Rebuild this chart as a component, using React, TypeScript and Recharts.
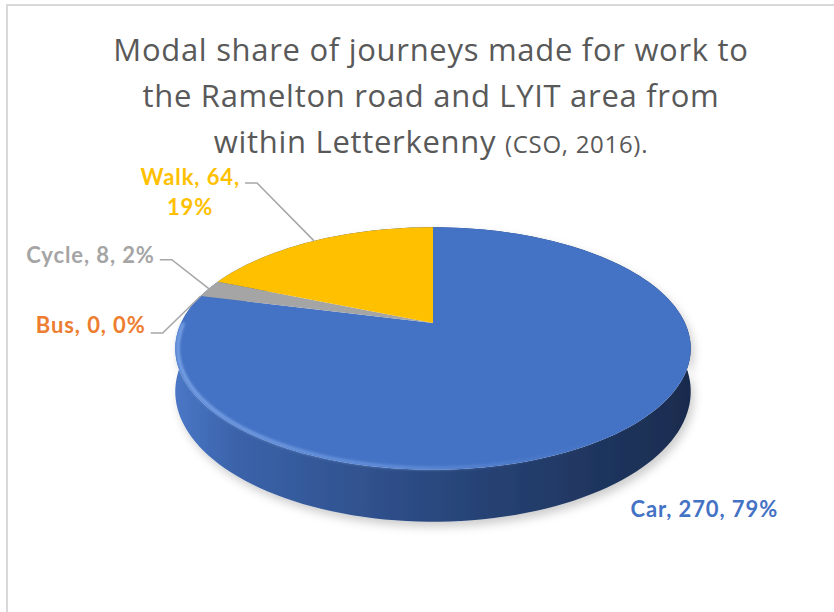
import React from 'react';
import { PieChart, Pie } from 'recharts';

const CATEGORIES = ['Car', 'Bus', 'Cycle', 'Walk'];
const JOURNEYS = [270, 0, 8, 64];
const COLORS = ['#4472C4', '#ED7D31', '#A5A5A5', '#FFC000'];

const chartData = CATEGORIES.map((name, i) => ({ name, value: JOURNEYS[i], color: COLORS[i] }));

// perspective of the tilted disc
const PERSP = 0.21;
const TILT = 0.46;
const DEPTH = 0.163;

// where the data labels sit, relative to the slice rim point
const LABEL_LAYOUT: Record<string, any> = {
    Car: { dx: 12, dy: 76 },
    Bus: { ex: -38, ey: 37, tx: -5, ty: -8 },
    Cycle: { ex: -37, ey: -29, tx: -5, ty: -5 },
    Walk: { ex: -57, ey: -58, tx: -55, ty: -6, wrap: true },
};

const project = (cx: number, cy: number, r: number, deg: number, f = 1, drop = 0) => {
    const t = (deg * Math.PI) / 180;
    const X = f * Math.cos(t);
    const Z = -f * Math.sin(t);
    const d = 1 - PERSP * Z;
    return [cx + (r * X) / d, cy + (r * (TILT * Z + drop)) / d];
};

const arcPoints = (cx: number, cy: number, r: number, a0: number, a1: number, drop = 0) => {
    const n = Math.max(2, Math.ceil(Math.abs(a1 - a0) / 2));
    const pts: number[][] = [];
    for (let i = 0; i <= n; i++) {
        pts.push(project(cx, cy, r, a0 + ((a1 - a0) * i) / n, 1, drop));
    }
    return pts;
};

const toPath = (pts: number[][]) => pts.map((p, i) => `${i ? 'L' : 'M'}${p[0].toFixed(2)},${p[1].toFixed(2)}`).join(' ');

const WallShape = (props: any) => {
    const { cx, cy, outerRadius, startAngle, endAngle } = props;
    const name = props.name ?? props.payload?.name;
    if (startAngle === endAngle) return null;
    const top = arcPoints(cx, cy, outerRadius, startAngle, endAngle);
    const bottom = arcPoints(cx, cy, outerRadius, startAngle, endAngle, DEPTH).reverse();
    const id = `wall-${name}`;
    const left = cx - outerRadius * 1.03;
    const right = cx + outerRadius * 1.03;
    return (
        <g>
            <defs>
                <linearGradient id={id} gradientUnits="userSpaceOnUse" x1={left} x2={right} y1={0} y2={0}>
                    <stop offset="0" stopColor="#4a77c6" />
                    <stop offset="0.12" stopColor="#3b63aa" />
                    <stop offset="0.55" stopColor="#284579" />
                    <stop offset="1" stopColor="#192b4d" />
                </linearGradient>
                <filter id={`${id}-sh`} x="-10%" y="-10%" width="120%" height="130%">
                    <feDropShadow dx="3" dy="5" stdDeviation="5" floodColor="#000" floodOpacity="0.2" />
                </filter>
            </defs>
            <path d={`${toPath(top)} ${toPath(bottom).replace('M', 'L')} Z`} fill={`url(#${id})`} filter={`url(#${id}-sh)`} />
        </g>
    );
};

const TopShape = (props: any) => {
    const { cx, cy, outerRadius, startAngle, endAngle, value, percent, fill } = props;
    const name = props.name ?? props.payload?.name;
    const color = props.payload?.color ?? fill;
    const mid = (startAngle + endAngle) / 2;
    const rim = arcPoints(cx, cy, outerRadius, startAngle, endAngle);
    const face = startAngle === endAngle ? null : `M${cx},${cy} ${toPath(rim).replace('M', 'L')} Z`;

    // highlight along the front rim
    const lo = Math.max(Math.min(startAngle, endAngle), -180);
    const hi = Math.min(Math.max(startAngle, endAngle), -10);
    const front = hi > lo ? toPath(arcPoints(cx, cy, outerRadius * 0.99, lo, hi)) : null;

    const text = `${name}, ${value}, ${Math.round(percent * 100)}%`;
    const lay = LABEL_LAYOUT[name];
    const [ax, ay] = project(cx, cy, outerRadius, mid);
    const labelStyle = { fontFamily: 'Lato, sans-serif', fontWeight: 700, fontSize: 22, letterSpacing: 0.9 };

    let label = null;
    if (lay && lay.ex === undefined) {
        label = (
            <text x={ax + lay.dx} y={ay + lay.dy} fill={color} dominantBaseline="central" style={labelStyle}>
                {text}
            </text>
        );
    } else if (lay) {
        const bx = ax + lay.ex;
        const by = ay + lay.ey;
        const tx = bx - 12;
        const parts = lay.wrap ? [`${name}, ${value},`, `${Math.round(percent * 100)}%`] : [text];
        label = (
            <g>
                <polyline points={`${ax},${ay} ${bx},${by} ${tx},${by}`} fill="none" stroke="#a6a6a6" strokeWidth={1.5} />
                {parts.map((p, i) => (
                    <text
                        key={p}
                        x={lay.wrap && i > 0 ? tx + lay.tx : tx - 5}
                        y={by + lay.ty + i * 30}
                        textAnchor={lay.wrap && i > 0 ? 'middle' : 'end'}
                        dominantBaseline="central"
                        fill={color}
                        style={labelStyle}
                    >
                        {p}
                    </text>
                ))}
            </g>
        );
    }

    const left = cx - outerRadius;
    const right = cx + outerRadius;
    return (
        <g>
            <defs>
                <filter id={`rim-${name}`} x="-5%" y="-20%" width="110%" height="140%">
                    <feGaussianBlur stdDeviation="1.4" />
                </filter>
                <linearGradient id={`rimg-${name}`} gradientUnits="userSpaceOnUse" x1={left} x2={right} y1={0} y2={0}>
                    <stop offset="0" stopColor="#8db4f2" stopOpacity={0.9} />
                    <stop offset="0.45" stopColor="#7aa5ea" stopOpacity={0.6} />
                    <stop offset="0.85" stopColor="#6a95dc" stopOpacity={0} />
                </linearGradient>
            </defs>
            {face && <path d={face} fill={color} />}
            {front && face && (
                <path d={front} fill="none" stroke={`url(#rimg-${name})`} strokeWidth={3} filter={`url(#rim-${name})`} />
            )}
            {label}
        </g>
    );
};

const App: React.FC = () => {
    return (
        <div style={{ position: 'fixed', left: 0, top: 0, width: 834, height: 612, overflow: 'hidden', background: '#fff' }}>
            <div style={{ position: 'absolute', left: 6, top: 4, width: 900, height: 700, border: '2px solid #d9d9d9' }} />
            <div
                style={{
                    position: 'absolute',
                    left: 0,
                    top: 26,
                    width: 862,
                    textAlign: 'center',
                    fontFamily: '"Open Sans", sans-serif',
                    fontSize: 31,
                    letterSpacing: 0.7,
                    lineHeight: '46px',
                    color: '#595959',
                }}
            >
                Modal share of journeys made for work to
                <br />
                the Ramelton road and LYIT area from
                <br />
                within Letterkenny <span style={{ fontSize: 24 }}>(CSO, 2016).</span>
            </div>
            <div style={{ position: 'absolute', left: 0, top: 0 }}>
                <PieChart width={834} height={612} margin={{ top: 0, right: 0, bottom: 0, left: 0 }}>
                    <Pie
                        data={chartData}
                        dataKey="value"
                        nameKey="name"
                        cx={433}
                        cy={323}
                        outerRadius={252}
                        startAngle={90}
                        endAngle={-270}
                        stroke="none"
                        shape={WallShape}
                        activeShape={WallShape}
                        inactiveShape={WallShape}
                        isAnimationActive={false}
                    />
                    <Pie
                        data={chartData}
                        dataKey="value"
                        nameKey="name"
                        cx={433}
                        cy={323}
                        outerRadius={252}
                        startAngle={90}
                        endAngle={-270}
                        stroke="none"
                        shape={TopShape}
                        activeShape={TopShape}
                        inactiveShape={TopShape}
                        isAnimationActive={false}
                    />
                </PieChart>
            </div>
        </div>
    );
};

export default App;
